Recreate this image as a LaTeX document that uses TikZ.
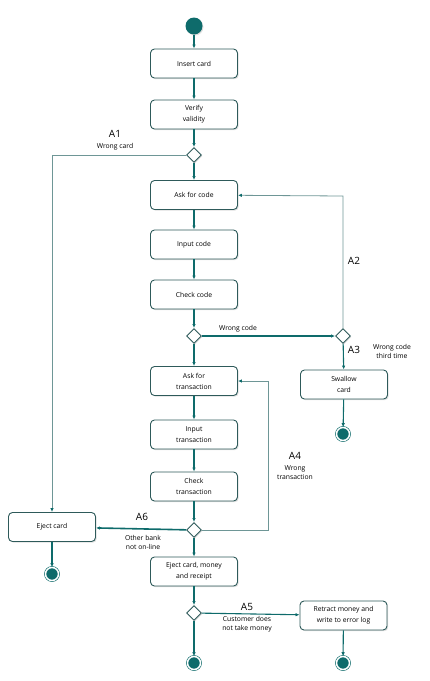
\documentclass[tikz,border=0pt]{standalone}
\usepackage{fontspec}
\setmainfont{Open Sans}
\usetikzlibrary{shapes.geometric,shadows,arrows.meta}
\definecolor{sarcelle}{HTML}{0E6B6B}
\definecolor{bord}{HTML}{2E5A5A}
\definecolor{retour}{HTML}{6E9696}
\begin{document}
\begin{tikzpicture}[x=1pt,y=-1pt]
\tikzset{etape/.style={draw=bord, line width=0.9pt, rounded corners=4pt, fill=white, minimum width=87pt, minimum height=29pt, inner sep=1pt, align=center, font=\fontsize{6.8}{11}\selectfont, drop shadow={shadow xshift=1.2pt, shadow yshift=-1.2pt, opacity=0.25}},
choix/.style={draw=bord, line width=0.9pt, fill=white, diamond, minimum size=15pt, inner sep=0pt, drop shadow={shadow xshift=1pt, shadow yshift=-1pt, opacity=0.25}},
debut/.style={circle, fill=sarcelle, minimum size=17pt, inner sep=0pt, drop shadow={shadow xshift=1pt, shadow yshift=-1pt, opacity=0.25}},
fin/.style={circle, fill=sarcelle, draw=sarcelle, line width=0.6pt, double=white, double distance=1.5pt, minimum size=13pt, inner sep=0pt, drop shadow={shadow xshift=1pt, shadow yshift=-1pt, opacity=0.25}},
fleche/.style={draw=sarcelle, line width=1.1pt, -{Latex[length=4pt,width=3.5pt]}},
boucle/.style={draw=retour, line width=0.8pt, -{Latex[length=4pt,width=3.5pt,color=sarcelle]}},
etiq/.style={font=\fontsize{10}{12}\selectfont},
petit/.style={font=\fontsize{6.8}{9}\selectfont, align=center}}
\useasboundingbox (0,0) rectangle (429,681);
\node[debut] (S) at (194,26) {};
\node[etape] (V1) at (194,63.5) {Insert card};
\node[etape] (V2) at (194,114.5) {Verify\\validity};
\node[choix] (D1) at (194,155) {};
\node[etape] (V3) at (194,195) {Ask for code};
\node[etape] (V4) at (194,244.5) {Input code};
\node[etape] (V5) at (194,294.5) {Check code};
\node[choix] (D2) at (194,336) {};
\node[choix] (D3) at (343,336) {};
\node[etape] (V6) at (194,381) {Ask for\\transaction};
\node[etape] (V7) at (344,384.5) {Swallow\\card};
\node[fin] (F1) at (343,434) {};
\node[etape] (V8) at (194,434.5) {Input\\transaction};
\node[etape] (V9) at (194,486.5) {Check\\transaction};
\node[choix] (D4) at (194,530) {};
\node[etape] (V10) at (52,527) {Eject card};
\node[fin] (F2) at (52,574) {};
\node[etape] (V11) at (194,571.5) {Eject card, money\\and receipt};
\node[choix] (D5) at (194,613) {};
\node[etape] (V12) at (343.5,615.5) {Retract money and\\write to error log};
\node[fin] (F3) at (194,663) {};
\node[fin] (F4) at (343,663) {};
\coordinate (C1) at (52,155);
\coordinate (C2) at (343,196);
\coordinate (C3) at (268,530);
\coordinate (C4) at (268,381);
\draw[fleche] (S) -- (V1);
\draw[fleche] (V1) -- (V2);
\draw[fleche] (V2) -- (D1);
\draw[fleche] (D1) -- (V3);
\draw[boucle] (D1) -- (C1) -- (V10);
\draw[fleche] (V3) -- (V4);
\draw[fleche] (V4) -- (V5);
\draw[fleche] (V5) -- (D2);
\draw[fleche, line width=1.6pt] (D2) -- (D3);
\draw[boucle] (D3) -- (C2) -- (V3);
\draw[fleche] (D3) -- (V7);
\draw[fleche] (V7) -- (F1);
\draw[fleche] (D2) -- (V6);
\draw[fleche] (V6) -- (V8);
\draw[fleche] (V8) -- (V9);
\draw[fleche] (V9) -- (D4);
\draw[boucle] (D4) -- (C3) -- (C4) -- (V6);
\draw[fleche, line width=1.6pt] (D4) -- (V10);
\draw[fleche, line width=1.6pt] (V10) -- (F2);
\draw[fleche] (D4) -- (V11);
\draw[fleche] (V11) -- (D5);
\draw[fleche] (D5) -- (F3);
\draw[fleche] (D5) -- (V12);
\draw[fleche] (V12) -- (F4);
\node[etiq] (A1) at (115,134) {A1};
\node[petit] (L1) at (115,147) {Wrong card};
\node[petit] (L2) at (238,329) {Wrong code};
\node[etiq] (A2) at (354,261) {A2};
\node[etiq] (A3) at (354,350) {A3};
\node[petit] (L3) at (392,351) {Wrong code\\third time};
\node[etiq] (A4) at (295,456) {A4};
\node[petit] (L4) at (295,473) {Wrong\\transaction};
\node[etiq] (A6) at (142,517) {A6};
\node[petit] (L6) at (143,542) {Other bank\\not on-line};
\node[etiq] (A5) at (247,607) {A5};
\node[petit] (L5) at (247,624) {Customer does\\not take money};
\end{tikzpicture}
\end{document}
